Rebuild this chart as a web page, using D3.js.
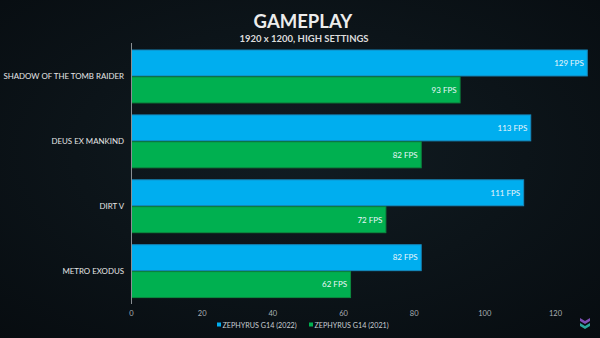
<!DOCTYPE html>
<html>
<head>
<meta charset="utf-8">
<script src="https://cdn.jsdelivr.net/npm/d3@7"></script>
<style>
  html, body { margin: 0; padding: 0; background: #0b1217; }
  svg { display: block; font-family: Lato, "Open Sans", sans-serif; }
</style>
</head>
<body>
<div id="chart"></div>
<script>
// Chart data
const games = ['SHADOW OF THE TOMB RAIDER', 'DEUS EX MANKIND', 'DIRT V', 'METRO EXODUS'];
const series = ['ZEPHYRUS G14 (2022)', 'ZEPHYRUS G14 (2021)'];
const fps2022 = [129, 113, 111, 82];
const fps2021 = [93, 82, 72, 62];
const xTicks = [0, 20, 40, 60, 80, 100, 120];

const width = 600;
const height = 338;
const colors = { fill: ['#00aeef', '#00b050'], stroke: ['#1689bd', '#0b8a3f'] };

const svg = d3.select('#chart')
  .append('svg')
  .attr('width', width)
  .attr('height', height);

// Background
const bg = svg.append('defs').append('radialGradient')
  .attr('id', 'bg').attr('cx', '50%').attr('cy', '45%').attr('r', '75%');
bg.append('stop').attr('offset', '0%').attr('stop-color', '#111c22');
bg.append('stop').attr('offset', '100%').attr('stop-color', '#070c10');
svg.append('rect').attr('width', width).attr('height', height).attr('fill', 'url(#bg)');

// Title
svg.append('text')
  .attr('x', 303).attr('y', 28)
  .attr('text-anchor', 'middle')
  .attr('font-size', 18.5).attr('font-weight', 700)
  .attr('fill', '#ececec')
  .text('GAMEPLAY');

svg.append('text')
  .attr('x', 304).attr('y', 41.5)
  .attr('text-anchor', 'middle')
  .attr('font-size', 9.5).attr('font-weight', 700)
  .attr('fill', '#dcdcdc')
  .text('1920 x 1200, HIGH SETTINGS');

// Scales
const x = d3.scaleLinear().domain([0, 130]).range([131.5, 590.8]);
const y0 = d3.scaleBand().domain(games).range([44, 303.6])
  .paddingInner(0.17).paddingOuter(0.085);
const y1 = d3.scaleBand().domain(series).range([0, y0.bandwidth()]);

const rows = games.map((g, i) => ({ game: g, values: [fps2022[i], fps2021[i]] }));

const group = svg.append('g').selectAll('g')
  .data(rows)
  .join('g')
  .attr('transform', d => `translate(0,${y0(d.game)})`);

group.selectAll('rect')
  .data(d => d.values.map((v, k) => ({ v, k })))
  .join('rect')
  .attr('x', x(0))
  .attr('y', d => y1(series[d.k]) + 0.5)
  .attr('width', d => x(d.v) - x(0))
  .attr('height', y1.bandwidth() - 1)
  .attr('fill', d => colors.fill[d.k])
  .attr('stroke', d => colors.stroke[d.k])
  .attr('stroke-width', 1);

group.selectAll('text.val')
  .data(d => d.values.map((v, k) => ({ v, k })))
  .join('text')
  .attr('class', 'val')
  .attr('x', d => x(d.v) - 3.5)
  .attr('y', d => y1(series[d.k]) + y1.bandwidth() / 2)
  .attr('dy', '0.35em')
  .attr('text-anchor', 'end')
  .attr('font-size', 8)
  .attr('fill', '#eaf6fb')
  .text(d => `${d.v} FPS`);

// Category labels
svg.append('g').selectAll('text')
  .data(games)
  .join('text')
  .attr('x', 124)
  .attr('y', d => y0(d) + y0.bandwidth() / 2)
  .attr('dy', '0.35em')
  .attr('text-anchor', 'end')
  .attr('font-size', 7.9)
  .attr('fill', '#e6e6e6')
  .text(d => d);

// Vertical axis line
svg.append('line')
  .attr('x1', x(0)).attr('x2', x(0))
  .attr('y1', 43).attr('y2', 304)
  .attr('stroke', '#8a8f93').attr('stroke-width', 1);

// X tick labels
svg.append('g').selectAll('text')
  .data(xTicks)
  .join('text')
  .attr('x', d => x(d))
  .attr('y', 316)
  .attr('text-anchor', 'middle')
  .attr('font-size', 7.5)
  .attr('fill', '#a9b0b4')
  .text(d => d);

// Legend
const legendX = [217, 309];
const legend = svg.append('g').selectAll('g')
  .data(series)
  .join('g')
  .attr('transform', (d, i) => `translate(${legendX[i]},326)`);

legend.append('rect')
  .attr('x', 0).attr('y', -3.5)
  .attr('width', 4).attr('height', 4)
  .attr('fill', (d, i) => colors.fill[i]);

legend.append('text')
  .attr('x', 5.5).attr('y', 0)
  .attr('dy', '0.3em')
  .attr('font-size', 7.2)
  .attr('fill', '#c9cfd2')
  .text(d => d);

// Small logo bottom right
const logo = svg.append('g').attr('transform', 'translate(585,323)');
logo.append('path').attr('d', 'M-5,-5 L0,-2 L5,-5 L5,-2 L0,1 L-5,-2 Z').attr('fill', '#7d4fb3');
logo.append('path').attr('d', 'M-5,0 L0,3 L5,0 L5,3 L0,6 L-5,3 Z').attr('fill', '#2aa79b');
</script>
</body>
</html>
